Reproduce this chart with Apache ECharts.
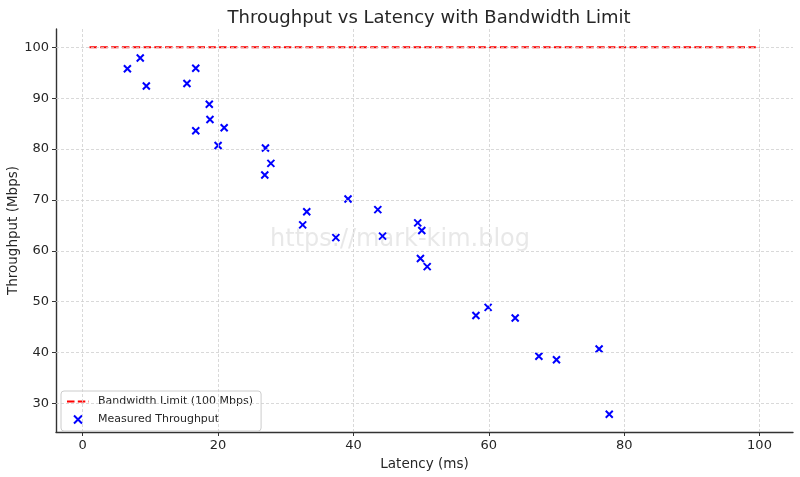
<!DOCTYPE html>
<html>
<head>
<meta charset="utf-8">
<title>Throughput vs Latency with Bandwidth Limit</title>
<script src="https://cdn.jsdelivr.net/npm/echarts@6/dist/echarts.min.js"></script>
<style>
  html, body { margin: 0; padding: 0; background: #fff; }
  #main { width: 800px; height: 477px; }
</style>
</head>
<body>
<div id="main"></div>
<script>
// measured points
var latency = [6.6, 8.5, 9.4, 15.4, 16.7, 18.7, 18.8, 16.7, 20.9, 20.0,
               27.0, 27.8, 26.9, 33.1, 32.5, 39.2, 37.4, 43.6, 44.3, 49.5,
               50.1, 49.9, 50.9, 58.1, 59.9, 63.9, 67.4, 70.0, 76.3, 77.8];
var throughput = [95.8, 97.9, 92.4, 92.9, 95.9, 88.8, 85.8, 83.6, 84.2, 80.7,
                  80.2, 77.2, 74.9, 67.7, 65.1, 70.2, 62.6, 68.1, 62.9, 65.5,
                  64.0, 58.5, 56.9, 47.3, 48.9, 46.8, 39.3, 38.6, 40.7, 27.9];
var limitX = [1, 100];
var limitY = [100, 100];
var xTicks = [0, 20, 40, 60, 80, 100];
var yTicks = [30, 40, 50, 60, 70, 80, 90, 100];

var font = 'DejaVu Sans';
var myChart = echarts.init(document.getElementById('main'));

var pts = latency.map(function (x, i) { return [x, throughput[i]]; });
var limitPts = limitX.map(function (x, i) { return [x, limitY[i]]; });

// grid lines drawn as markLines so they sit on the tick values
var gridLines = [];
xTicks.forEach(function (v) { gridLines.push({ xAxis: v }); });
yTicks.forEach(function (v) { gridLines.push({ yAxis: v }); });

var axisCommon = {
  axisLine: { show: true, onZero: false, lineStyle: { color: '#333', width: 1.4 } },
  axisTick: { show: true, inside: false, length: 4, lineStyle: { color: '#333', width: 1 } },
  splitLine: { show: false },
  nameMoveOverlap: false,
  nameTextStyle: { fontFamily: font, fontSize: 13.5, color: '#262626' }
};

myChart.setOption({
  animation: false,
  title: {
    text: 'Throughput vs Latency with Bandwidth Limit',
    left: 424, top: 4, textAlign: 'center',
    textStyle: { fontFamily: font, fontSize: 18, fontWeight: 'normal', color: '#262626' }
  },
  graphic: [{
    type: 'text', left: 'center', top: 228, z: 0, silent: true,
    style: { text: 'https://mark-kim.blog', fontFamily: font, fontSize: 24, fill: 'rgba(185,185,185,0.32)' }
  }],
  grid: { left: 56, right: 7, top: 29, bottom: 45, containLabel: false, outerBoundsMode: 'none' },
  xAxis: Object.assign({}, axisCommon, {
    type: 'value', min: -3.95, max: 104.95,
    name: 'Latency (ms)', nameLocation: 'middle', nameGap: 25,
    axisTick: Object.assign({}, axisCommon.axisTick, { customValues: xTicks }),
    axisLabel: { customValues: xTicks, fontFamily: font, fontSize: 13, color: '#262626', margin: 7 }
  }),
  yAxis: Object.assign({}, axisCommon, {
    type: 'value', min: 24.4, max: 103.6,
    name: 'Throughput (Mbps)', nameLocation: 'middle', nameGap: 36,
    axisTick: Object.assign({}, axisCommon.axisTick, { customValues: yTicks }),
    axisLabel: { customValues: yTicks, fontFamily: font, fontSize: 13, color: '#262626', margin: 7 }
  }),
  legend: {
    left: 61, top: 391, orient: 'vertical', itemGap: 6,
    itemWidth: 22, itemHeight: 8,
    padding: [5, 8, 5, 5],
    backgroundColor: 'rgba(255,255,255,0.8)',
    borderColor: '#ccc', borderWidth: 1, borderRadius: 3,
    textStyle: { fontFamily: font, fontSize: 11, color: '#262626', padding: [0, 0, 0, 4] },
    data: [
      { name: 'Bandwidth Limit (100 Mbps)', itemStyle: { color: 'transparent', borderWidth: 0, opacity: 0 } },
      { name: 'Measured Throughput', icon: 'path://M0,0L10,10M10,0L0,10', itemStyle: { color: 'none', borderColor: '#0000ff', borderWidth: 2 } }
    ]
  },
  series: [
    {
      name: 'grid', type: 'line', data: [], silent: true,
      markLine: {
        silent: true, symbol: 'none', label: { show: false },
        lineStyle: { color: '#cfcfcf', type: [3, 2], width: 0.8 },
        data: gridLines
      }
    },
    {
      name: 'Bandwidth Limit (100 Mbps)', type: 'line', data: limitPts,
      symbol: 'none', z: 3,
      lineStyle: { color: '#ff0000', type: [7.5, 3.3], width: 2 },
      itemStyle: { color: '#ff0000' }
    },
    {
      name: 'Measured Throughput', type: 'scatter', data: pts, z: 4,
      symbol: 'path://M0,0L10,10M10,0L0,10', symbolSize: 7,
      itemStyle: { color: 'none', borderColor: '#0000ff', borderWidth: 2, opacity: 1 }
    }
  ]
});
</script>
</body>
</html>
